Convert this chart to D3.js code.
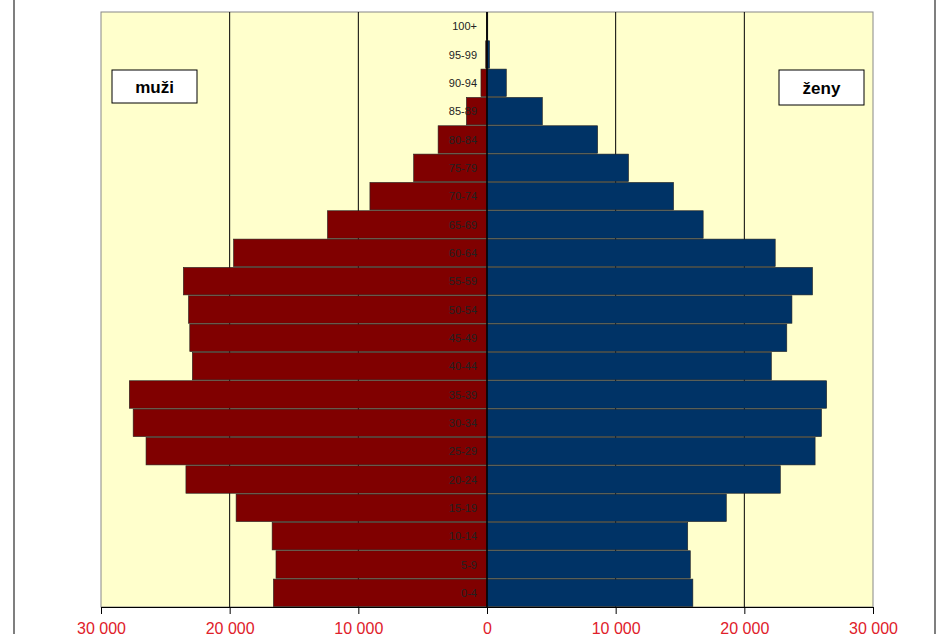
<!DOCTYPE html>
<html><head><meta charset="utf-8">
<script src="https://cdn.jsdelivr.net/npm/d3@7"></script>
<style>body{margin:0;background:#fff}svg{display:block}</style>
</head><body>
<script>
// Age groups, top to bottom
var ages = ["100+","95-99","90-94","85-89","80-84","75-79","70-74","65-69","60-64","55-59","50-54","45-49","40-44","35-39","30-34","25-29","20-24","15-19","10-14","5-9","0-4"];
var men = [30,100,470,1600,3800,5700,9100,12400,19700,23600,23200,23100,22900,27800,27500,26500,23400,19500,16700,16400,16600];
var women = [60,200,1500,4300,8600,11000,14500,16800,22400,25300,23700,23300,22100,26400,26000,25500,22800,18600,15600,15800,16000];
var ticks = [-30000,-20000,-10000,0,10000,20000,30000];

var W = 950, H = 634;
var svg = d3.select("body").append("svg").attr("width", W).attr("height", H);

// Outer frame
svg.append("rect").attr("x", 14).attr("y", -5).attr("width", 921).attr("height", H + 10)
  .attr("fill", "#fff").attr("stroke", "#555").attr("stroke-width", 1.5);

var x = d3.scaleLinear().domain([-30000, 30000]).range([101, 873]);
var y = d3.scaleBand().domain(ages).range([12, 607]).paddingInner(0.03).paddingOuter(0.015);

// Plot area
svg.append("rect").attr("x", x(-30000)).attr("y", 12).attr("width", x(30000) - x(-30000)).attr("height", 595)
  .attr("fill", "#ffffcc").attr("stroke", "#888").attr("stroke-width", 1);

// Gridlines
svg.selectAll("line.grid").data([-20000,-10000,10000,20000]).enter().append("line")
  .attr("x1", function(d) { return x(d); }).attr("x2", function(d) { return x(d); })
  .attr("y1", 12).attr("y2", 607).attr("stroke", "#000").attr("stroke-width", 1);

// Bars
svg.selectAll("rect.men").data(men).enter().append("rect")
  .attr("x", function(d) { return x(-d); })
  .attr("y", function(d, i) { return y(ages[i]); })
  .attr("width", function(d) { return x(0) - x(-d); })
  .attr("height", y.bandwidth())
  .attr("fill", "#800000").attr("stroke", "#222").attr("stroke-width", 0.6);

svg.selectAll("rect.women").data(women).enter().append("rect")
  .attr("x", x(0))
  .attr("y", function(d, i) { return y(ages[i]); })
  .attr("width", function(d) { return x(d) - x(0); })
  .attr("height", y.bandwidth())
  .attr("fill", "#003366").attr("stroke", "#222").attr("stroke-width", 0.6);

// Center axis
svg.append("line").attr("x1", x(0)).attr("x2", x(0)).attr("y1", 12).attr("y2", 607)
  .attr("stroke", "#000").attr("stroke-width", 1.5);

// Age labels
svg.selectAll("text.age").data(ages).enter().append("text")
  .attr("x", x(0) - 10)
  .attr("y", function(d) { return y(d) + y.bandwidth() / 2 + 4; })
  .attr("text-anchor", "end")
  .attr("font-family", "Liberation Sans, Arial, sans-serif").attr("font-size", 11)
  .attr("fill", "#222").text(function(d) { return d; });

// Bottom axis
var xAxis = d3.axisBottom(x).tickValues(ticks).tickSize(7)
  .tickFormat(function(d) { return d3.format(",")(Math.abs(d)).replace(/,/g, " "); });
var ax = svg.append("g").attr("transform", "translate(0,607)").call(xAxis);
ax.select(".domain").attr("stroke", "#000");
ax.selectAll(".tick line").attr("stroke", "#000");
ax.selectAll("text").attr("fill", "#e0202a").attr("font-size", 16)
  .attr("font-family", "Liberation Sans, Arial, sans-serif").attr("dy", "1.05em");

// Legend boxes
function box(bx, by, bw, bh, label) {
  svg.append("rect").attr("x", bx).attr("y", by).attr("width", bw).attr("height", bh)
    .attr("fill", "#fff").attr("stroke", "#000").attr("stroke-width", 1);
  svg.append("text").attr("x", bx + bw / 2).attr("y", by + bh / 2 + 6).attr("text-anchor", "middle")
    .attr("font-family", "Liberation Sans, Arial, sans-serif").attr("font-size", 17).attr("font-weight", "bold")
    .text(label);
}
box(112, 70, 85, 33, "muži");
box(779, 70, 85, 35, "ženy");
</script>
</body></html>
